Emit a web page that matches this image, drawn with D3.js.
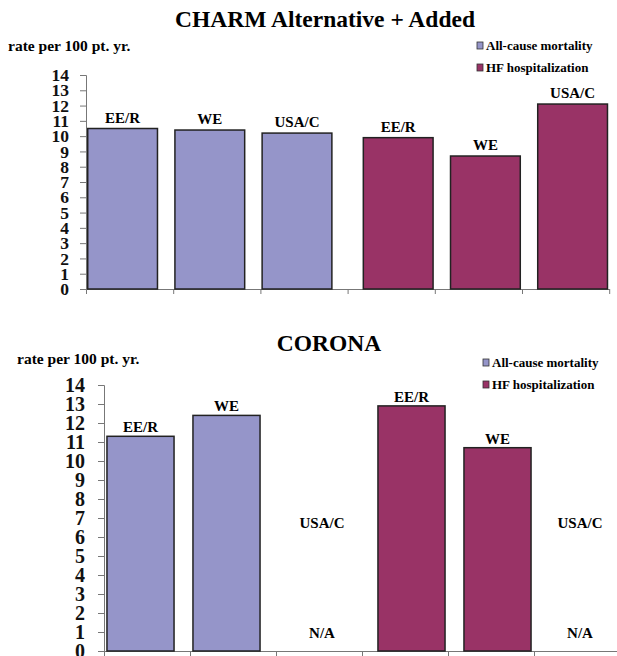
<!DOCTYPE html>
<html>
<head>
<meta charset="utf-8">
<script src="https://cdn.jsdelivr.net/npm/d3@7"></script>
<style>
  html, body { margin: 0; padding: 0; background: #fff; }
  svg { display: block; }
  svg text { font-family: "Liberation Serif", "Times New Roman", Times, serif !important; font-weight: bold; }
</style>
</head>
<body>
<svg id="chart" width="617" height="656"></svg>
<script>
// ---- data ----
const regions = ["EE/R", "WE", "USA/C"];
const seriesNames = ["All-cause mortality", "HF hospitalization"];
const charmMortality = [10.5, 10.4, 10.2];
const charmHF = [9.9, 8.7, 12.1];
const coronaMortality = [11.3, 12.4, null];
const coronaHF = [12.9, 10.7, null];
const yTicks = [0, 1, 2, 3, 4, 5, 6, 7, 8, 9, 10, 11, 12, 13, 14];
const titles = ["CHARM Alternative + Added", "CORONA"];
const yLabel = "rate per 100 pt. yr.";
const missingLabel = "N/A";
const colors = ["#9595C9", "#993366"];

const svg = d3.select("#chart");

function panel(cfg) {
  const g = svg.append("g");
  const y = d3.scaleLinear().domain([0, 14]).range([cfg.y0, cfg.y1]);
  const group = d3.scaleBand().domain(seriesNames).range([cfg.x0, cfg.x0 + cfg.step * 6]);
  const inner = d3.scaleBand().domain(regions).range([0, group.bandwidth()])
    .paddingInner(cfg.pad).paddingOuter(cfg.pad / 2);
  const shift = [-cfg.shift, cfg.shift];

  // title and y label
  g.append("text").attr("x", cfg.titleX).attr("y", cfg.titleY)
    .attr("text-anchor", "middle").attr("font-size", 23.5).text(cfg.title);
  g.append("text").attr("x", cfg.labX).attr("y", cfg.labY)
    .attr("font-size", 15.5).text(yLabel);

  // legend
  seriesNames.forEach((s, i) => {
    const ly = cfg.legY + i * 22;
    g.append("rect").attr("x", cfg.legX).attr("y", ly - 8).attr("width", 6).attr("height", 7)
      .attr("fill", colors[i]).attr("stroke", "#333").attr("stroke-width", 0.8);
    g.append("text").attr("x", cfg.legX + 9).attr("y", ly)
      .attr("font-size", 13).text(s);
  });

  // y axis
  const yAxis = d3.axisLeft(y).tickValues(yTicks).tickFormat(d3.format("d"))
    .tickSize(6).tickPadding(cfg.tickPad);
  const ya = g.append("g").attr("transform", `translate(${cfg.x0},0)`).call(yAxis);
  ya.select(".domain").attr("stroke", "#777");
  ya.selectAll(".tick line").attr("stroke", "#777");
  ya.selectAll(".tick text").attr("font-size", cfg.tickFont).attr("fill", "#111");

  // x axis (category boundary ticks)
  const xb = d3.scaleLinear().domain([0, 6]).range([cfg.x0, cfg.x0 + cfg.step * 6]);
  const xAxis = d3.axisBottom(xb).tickValues(d3.range(0, 7)).tickFormat("").tickSize(5).tickSizeOuter(0);
  const xa = g.append("g").attr("transform", `translate(0,${cfg.y0})`).call(xAxis);
  xa.select(".domain").attr("stroke", "#777");
  xa.selectAll(".tick line").attr("stroke", "#777");

  // bars
  const series = [cfg.mort, cfg.hf];
  series.forEach((vals, si) => {
    const gx = group(seriesNames[si]) + shift[si];
    vals.forEach((v, ri) => {
      const bx = gx + inner(regions[ri]);
      if (v == null) {
        const cx = group(seriesNames[si]) + inner(regions[ri]) + inner.step() / 2 - inner.step() * cfg.pad / 2 + 3;
        g.append("text").attr("x", cx).attr("y", y(cfg.missRegionY)).attr("text-anchor", "middle")
          .attr("font-size", 15).text(regions[ri]);
        g.append("text").attr("x", cx).attr("y", y(cfg.missNAY)).attr("text-anchor", "middle")
          .attr("font-size", 15).text(missingLabel);
        return;
      }
      g.append("rect").attr("x", bx).attr("y", y(v)).attr("width", inner.bandwidth())
        .attr("height", y(0) - y(v)).attr("fill", colors[si])
        .attr("stroke", "#222").attr("stroke-width", 1.5);
      g.append("text").attr("x", bx + inner.bandwidth() / 2).attr("y", y(v) - cfg.lblGap)
        .attr("text-anchor", "middle").attr("font-size", 15).text(regions[ri]);
    });
  });
}

panel({
  title: titles[0], titleX: 325, titleY: 27, labX: 8, labY: 51,
  legX: 477, legY: 50,
  x0: 86, step: 87.2, y0: 289, y1: 75, pad: 0.2, shift: 7,
  tickPad: 11, tickFont: 17.5, lblGap: 6,
  mort: charmMortality, hf: charmHF
});

panel({
  title: titles[1], titleX: 329, titleY: 351, labX: 17, labY: 364,
  legX: 483, legY: 367,
  x0: 104, step: 86, y0: 651, y1: 385, pad: 0.22, shift: 6.5,
  tickPad: 13, tickFont: 20, lblGap: 4, missRegionY: 6.5, missNAY: 0.7,
  mort: coronaMortality, hf: coronaHF
});
</script>
</body>
</html>
